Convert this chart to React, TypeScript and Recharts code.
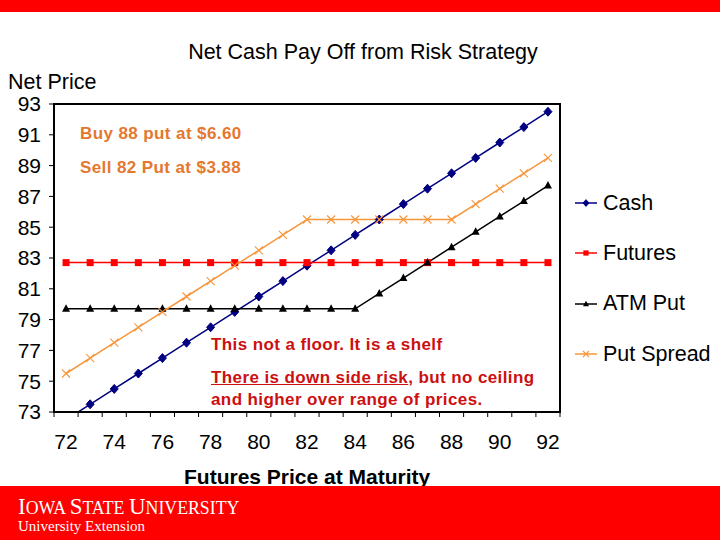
import React from "react";
import { LineChart, Line, XAxis, YAxis, ReferenceArea } from "recharts";

const categories = [72, 73, 74, 75, 76, 77, 78, 79, 80, 81, 82, 83, 84, 85, 86, 87, 88, 89, 90, 91, 92];
const cash = [72.5, 73.5, 74.5, 75.5, 76.5, 77.5, 78.5, 79.5, 80.5, 81.5, 82.5, 83.5, 84.5, 85.5, 86.5, 87.5, 88.5, 89.5, 90.5, 91.5, 92.5];
const futures = [82.7, 82.7, 82.7, 82.7, 82.7, 82.7, 82.7, 82.7, 82.7, 82.7, 82.7, 82.7, 82.7, 82.7, 82.7, 82.7, 82.7, 82.7, 82.7, 82.7, 82.7];
const atmPut = [79.7, 79.7, 79.7, 79.7, 79.7, 79.7, 79.7, 79.7, 79.7, 79.7, 79.7, 79.7, 79.7, 80.7, 81.7, 82.7, 83.7, 84.7, 85.7, 86.7, 87.7];
const putSpread = [75.5, 76.5, 77.5, 78.5, 79.5, 80.5, 81.5, 82.5, 83.5, 84.5, 85.5, 85.5, 85.5, 85.5, 85.5, 85.5, 85.5, 86.5, 87.5, 88.5, 89.5];
const xTickLabels = [72, 74, 76, 78, 80, 82, 84, 86, 88, 90, 92];
const yTickLabels = [73, 75, 77, 79, 81, 83, 85, 87, 89, 91, 93];

const data = categories.map((c, i) => ({
  x: c,
  cash: cash[i],
  futures: futures[i],
  atmPut: atmPut[i],
  putSpread: putSpread[i],
}));

const xMin = categories[0] - 0.5;
const xMax = categories[categories.length - 1] + 0.5;
const boundaryTicks = [xMin, ...categories.map((c) => c + 0.5)];
const allXTicks = [...boundaryTicks, ...xTickLabels].sort((a, b) => a - b);

const FONT = "'Liberation Sans', Arial, Helvetica, sans-serif";
const SERIF = "'Liberation Serif', 'DejaVu Serif', serif";
const NAVY = "#000080";
const RED = "#FF0000";
const BLACK = "#000000";
const ORANGE = "#F7963A";

const Diamond = ({ cx, cy, color, s = 1 }: any) => (
  <path d={`M${cx},${cy - 4.5 * s} L${cx + 4 * s},${cy} L${cx},${cy + 4.5 * s} L${cx - 4 * s},${cy} Z`} fill={color} stroke={color} />
);
const Square = ({ cx, cy, color, s = 1 }: any) => <rect x={cx - 3.5 * s} y={cy - 3.5 * s} width={7 * s} height={7 * s} fill={color} />;
const Triangle = ({ cx, cy, color, s = 1 }: any) => (
  <path d={`M${cx},${cy - 4.5 * s} L${cx + 4 * s},${cy + 3 * s} L${cx - 4 * s},${cy + 3 * s} Z`} fill={color} />
);
const Cross = ({ cx, cy, color, s = 1 }: any) => (
  <path
    d={`M${cx - 4 * s},${cy - 4 * s} L${cx + 4 * s},${cy + 4 * s} M${cx - 4 * s},${cy + 4 * s} L${cx + 4 * s},${cy - 4 * s}`}
    stroke={color}
    strokeWidth={1.1}
    fill="none"
  />
);

const series = [
  { key: "cash", name: "Cash", color: NAVY, Marker: Diamond },
  { key: "futures", name: "Futures", color: RED, Marker: Square },
  { key: "atmPut", name: "ATM Put", color: BLACK, Marker: Triangle },
  { key: "putSpread", name: "Put Spread", color: ORANGE, Marker: Cross },
];

const XTick = (props: any) => {
  const { x, y, payload } = props;
  const v = payload.value;
  if (Math.abs(v % 1) > 0.25) {
    return <line x1={x} x2={x} y1={y} y2={y + 5} stroke="#000" strokeWidth={1} />;
  }
  if (xTickLabels.includes(v)) {
    return (
      <text x={x} y={y + 37} textAnchor="middle" fontSize={21} fontFamily={FONT} fill="#000">
        {v}
      </text>
    );
  }
  return <g />;
};

const annStyle = { position: "absolute" as const, fontSize: 17, fontWeight: "bold" as const, letterSpacing: 0.4 };

const Big = ({ c }: { c: string }) => <span style={{ fontSize: 23 }}>{c}</span>;
const Small = ({ c }: { c: string }) => <span style={{ fontSize: 17.8 }}>{c}</span>;

export default function App() {
  return (
    <div style={{ position: "absolute", left: 0, top: 0, width: 720, height: 540, background: "#fff", overflow: "hidden", fontFamily: FONT }}>
      <div style={{ position: "absolute", left: 0, top: 0, width: 720, height: 12, background: "#FF0000" }} />
      <div style={{ position: "absolute", left: 0, top: 40, width: 720, textAlign: "center", fontSize: 21.5, color: "#000", paddingLeft: 6, boxSizing: "border-box" }}>
        Net Cash Pay Off from Risk Strategy
      </div>
      <div style={{ position: "absolute", left: 8, top: 70, fontSize: 21.5, color: "#000" }}>Net Price</div>

      <div style={{ position: "absolute", left: 0, top: 0 }}>
        <LineChart width={720} height={540} data={data} margin={{ top: 104, right: 160, bottom: 88, left: 0 }}>
          <XAxis
            dataKey="x"
            type="number"
            domain={[xMin, xMax]}
            ticks={allXTicks}
            interval={0}
            tick={<XTick />}
            tickLine={false}
            tickSize={0}
            tickMargin={0}
            axisLine={{ stroke: "#000", strokeWidth: 1.5 }}
            height={40}
            allowDataOverflow
          />
          <YAxis
            type="number"
            domain={[73, 93]}
            ticks={yTickLabels}
            interval={0}
            allowDataOverflow
            width={54}
            tickSize={5}
            tickMargin={8}
            tick={{ fontSize: 21, fill: "#000", fontFamily: FONT }}
            tickLine={{ stroke: "#000" }}
            axisLine={{ stroke: "#000", strokeWidth: 1.5 }}
          />
          <ReferenceArea x1={xMin} x2={xMax} y1={73} y2={93} fill="none" stroke="#000" strokeWidth={2} ifOverflow="visible" />
          {series.map((s) => (
            <Line
              key={s.key}
              dataKey={s.key}
              stroke={s.color}
              strokeWidth={1.5}
              isAnimationActive={false}
              dot={(p: any) => <s.Marker key={`${s.key}-${p.index}`} cx={p.cx} cy={p.cy} color={s.color} />}
              activeDot={false}
            />
          ))}
        </LineChart>
      </div>

      <div style={{ ...annStyle, left: 80, top: 124, color: "#E4782F" }}>Buy 88 put at $6.60</div>
      <div style={{ ...annStyle, left: 80, top: 158, color: "#E4782F" }}>Sell 82 Put at $3.88</div>

      <div style={{ ...annStyle, left: 211, top: 335, color: "#CC1010" }}>This not a floor. It is a shelf</div>
      <div style={{ ...annStyle, left: 211, top: 367, color: "#CC1010", lineHeight: "22px" }}>
        <span style={{ textDecoration: "underline" }}>There is down side risk</span>, but no ceiling
        <br />
        and higher over range of prices.
      </div>

      <div style={{ position: "absolute", left: 572, top: 178 }}>
        {series.map((s) => (
          <div key={s.key} style={{ display: "flex", alignItems: "center", height: 50.3 }}>
            <svg width={31} height={20}>
              <line x1={3} x2={25} y1={10} y2={10} stroke={s.color} strokeWidth={1.5} />
              <s.Marker cx={14} cy={10} color={s.color} s={0.75} />
            </svg>
            <span style={{ fontSize: 21.5, color: "#000" }}>{s.name}</span>
          </div>
        ))}
      </div>

      <div style={{ position: "absolute", left: 184, top: 465, fontSize: 21, fontWeight: "bold", color: "#000" }}>Futures Price at Maturity</div>

      <div style={{ position: "absolute", left: 0, top: 486, width: 720, height: 54, background: "#FF0000" }}>
        <div style={{ position: "absolute", left: 18, top: 8, fontFamily: SERIF, color: "#fff", lineHeight: "26px", whiteSpace: "nowrap" }}>
          <Big c="I" />
          <Small c="OWA " />
          <Big c="S" />
          <Small c="TATE " />
          <Big c="U" />
          <Small c="NIVERSITY" />
        </div>
        <div style={{ position: "absolute", left: 18, top: 31, fontFamily: SERIF, fontSize: 15, color: "#fff", lineHeight: "18px" }}>
          University Extension
        </div>
      </div>
    </div>
  );
}
